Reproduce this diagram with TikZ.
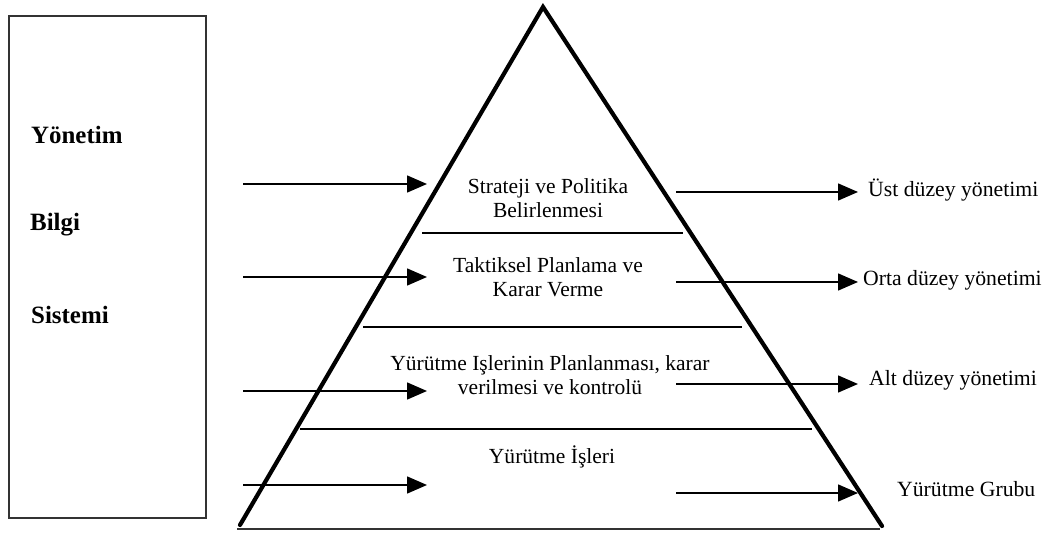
\documentclass[tikz,border=0pt]{standalone}
\usepackage{fontspec}
\setmainfont{Liberation Serif}
\usetikzlibrary{arrows.meta}

\begin{document}
\begin{tikzpicture}[x=1bp, y=-1bp,
  edge/.style={line width=4.2bp, line cap=round, line join=miter},
  base/.style={line width=2bp, draw=black!80},
  sep/.style={line width=1.4bp},
  flow/.style={line width=1.5bp, -{Triangle[length=20bp, width=17bp]}},
  level/.style={font=\fontsize{21.6}{24}\selectfont, align=center, inner sep=0pt},
  role/.style={font=\fontsize{21.8}{24}\selectfont, anchor=west, inner sep=0pt},
  sysword/.style={font=\fontsize{25}{28}\selectfont\bfseries, anchor=west, inner sep=0pt}
]
\useasboundingbox (0,0) rectangle (1048,537);

% system box on the left
\draw[line width=1.5bp, draw=black!80] (9,16) rectangle (206,518);
\node[sysword] (yon) at (31,135) {Yönetim};
\node[sysword] (bil) at (30,225) {Bilgi};
\node[sysword] (sis) at (31,315) {Sistemi};

% pyramid
\coordinate (apex) at (543,7);
\coordinate (bl) at (240,525);
\coordinate (br) at (882,526);
\draw[base] (237,529) -- (880,529);
\draw[edge] (bl) -- (apex) -- (br);

% level separators
\draw[sep] (422,233) -- (683,233);
\draw[sep] (363,327) -- (742,327);
\draw[sep] (300,429) -- (812,429);

% level texts
\node[level] (l1) at (548,198) {Strateji ve Politika\\Belirlenmesi};
\node[level] (l2) at (548,277) {Taktiksel Planlama ve\\Karar Verme};
\node[level] (l3) at (550,375) {Yürütme Işlerinin Planlanması, karar\\verilmesi ve kontrolü};
\node[level] (l4) at (552,457) {Yürütme İşleri};

% incoming arrows
\coordinate (i1s) at (243,184); \coordinate (i1e) at (427,184);
\coordinate (i2s) at (243,277); \coordinate (i2e) at (427,277);
\coordinate (i3s) at (243,391); \coordinate (i3e) at (427,391);
\coordinate (i4s) at (243,485); \coordinate (i4e) at (427,485);
\draw[flow] (i1s) -- (i1e);
\draw[flow] (i2s) -- (i2e);
\draw[flow] (i3s) -- (i3e);
\draw[flow] (i4s) -- (i4e);

% outgoing arrows and roles
\node[role] (r1) at (868,190) {Üst düzey yönetimi};
\node[role] (r2) at (863,280) {Orta düzey yönetimi};
\node[role] (r3) at (869,380) {Alt düzey yönetimi};
\node[role] (r4) at (897,489) {Yürütme Grubu};
\coordinate (o1s) at (676,192); \coordinate (o1e) at (858,192);
\coordinate (o2s) at (676,282); \coordinate (o2e) at (858,282);
\coordinate (o3s) at (676,384); \coordinate (o3e) at (858,384);
\coordinate (o4s) at (676,493); \coordinate (o4e) at (858,493);
\draw[flow] (o1s) -- (o1e);
\draw[flow] (o2s) -- (o2e);
\draw[flow] (o3s) -- (o3e);
\draw[flow] (o4s) -- (o4e);
\end{tikzpicture}
\end{document}
